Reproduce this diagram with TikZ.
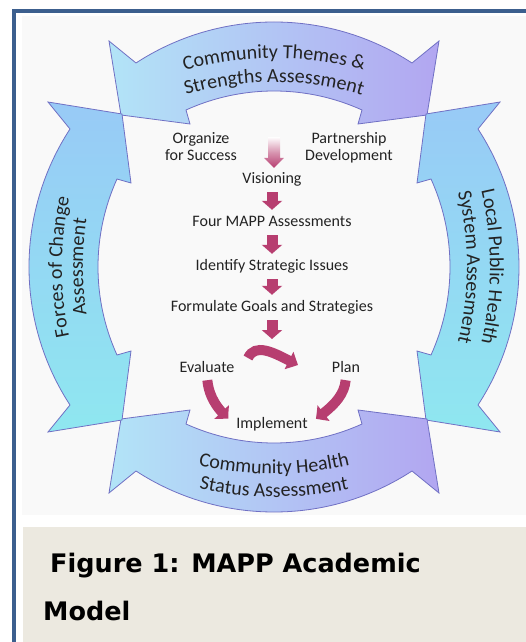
\documentclass[tikz,border=0pt]{standalone}
\usepackage{fontspec}
\setmainfont{Carlito}
\newfontfamily\capfont{DejaVu Sans}
\usetikzlibrary{arrows.meta,bending,decorations.text}

\definecolor{framecol}{RGB}{60,95,142}
\definecolor{panel}{RGB}{249,249,249}
\definecolor{capbg}{RGB}{236,233,224}
\definecolor{ringline}{RGB}{112,112,196}
\definecolor{bandleft}{RGB}{178,228,247}
\definecolor{bandright}{RGB}{178,166,241}
\definecolor{sidetop}{RGB}{152,202,246}
\definecolor{sidebottom}{RGB}{143,231,240}
\definecolor{mapp}{RGB}{183,62,112}
\definecolor{inktext}{RGB}{35,35,35}

\newcommand\ringpath{(-165,226) -- (-138,204) arc[start angle=123.1, end angle=56.9, radius=252.7]
  -- (165,226) -- (153,152) -- (84,143) -- (88,157)
  arc[start angle=65.63, end angle=114.37, radius=213.3]
  -- (-84,143) -- (-153,152) -- cycle}
\newcommand\arcfont{\fontsize{20}{24}\selectfont}
\newcommand\flowfont{\fontsize{16}{17}\selectfont}

\tikzset{
  ring/.style={draw=ringline, line width=0.8pt},
  arclabel/.style={decorate, decoration={text along path, text align=center,
    text color=inktext, text={|\arcfont|#1}}},
  flowtext/.style={font=\flowfont, text=inktext, inner sep=0pt,
    text height=11pt, text depth=4pt, anchor=base},
  twoline/.style={font=\flowfont, text=inktext, inner sep=0pt, align=center, anchor=north},
  flow/.style={draw=mapp, line width=11pt, -{Triangle[width=20pt,length=9pt]},
    shorten <=4pt, shorten >=6pt},
  cyc/.style={draw=mapp, line width=10pt, -{Triangle[width=19pt,length=10pt,bend]}},
  fadearrow/.style={top color=white, bottom color=mapp, middle color=mapp!55},
  caption/.style={font=\capfont\bfseries\fontsize{25.5}{30}\selectfont,
    inner sep=0pt, anchor=base west}
}

\begin{document}
\begin{tikzpicture}[x=1pt, y=1pt]
\useasboundingbox (-274,-375) rectangle (252,267);
\fill[white] (-274,-375) rectangle (252,267);

%frame and panels
\fill[panel] (-252,-248) rectangle (252,251);
\fill[capbg] (-251,-375) rectangle (252,-260);
\draw[framecol, line width=4pt] (-260,-375) -- (-260,256) -- (252,256);

%top
\path[ring, left color=bandleft, right color=bandright] \ringpath;
\path[arclabel={Community Themes {\&}}] ([shift={(115:330)}]0,-121) arc[start angle=115, end angle=65, radius=330];
\path[arclabel={Strengths Assessment}] ([shift={(115:306)}]0,-121) arc[start angle=115, end angle=65, radius=306];

%right
\begin{scope}[rotate=-90]
\path[ring, top color=sidetop, bottom color=sidebottom] \ringpath;
\path[arclabel={Local Public Health}] ([shift={(115:337)}]0,-121) arc[start angle=115, end angle=65, radius=337];
\path[arclabel={System Assesment}] ([shift={(115:314)}]0,-121) arc[start angle=115, end angle=65, radius=314];
\end{scope}

%bottom
\begin{scope}[rotate=180]
\path[ring, left color=bandleft, right color=bandright] \ringpath;
\end{scope}
\path[arclabel={Community Health}] ([shift={(245:328)}]0,121) arc[start angle=245, end angle=295, radius=328];
\path[arclabel={Status Assessment}] ([shift={(245:351)}]0,121) arc[start angle=245, end angle=295, radius=351];

%left
\begin{scope}[rotate=90]
\path[ring, top color=sidetop, bottom color=sidebottom] \ringpath;
\path[arclabel={Forces of Change}] ([shift={(115:333)}]0,-121) arc[start angle=115, end angle=65, radius=333];
\path[arclabel={Assessment}] ([shift={(115:312)}]0,-121) arc[start angle=115, end angle=65, radius=312];
\end{scope}

%steps
\node[twoline] (org) at (-73,135) {Organize\\for Success};
\node[twoline] (part) at (75,135) {Partnership\\Development};
\node[flowtext] (vis) at (-2,83) {Visioning};
\node[flowtext] (four) at (-2,40) {Four MAPP Assessments};
\node[flowtext] (ident) at (-2,-4) {Identify Strategic Issues};
\node[flowtext] (form) at (-2,-45) {Formulate Goals and Strategies};
\node[flowtext] (eval) at (-67,-105) {Evaluate};
\node[flowtext] (plan) at (72,-105) {Plan};
\node[flowtext] (impl) at (-2,-161) {Implement};
\coordinate (looptop) at (-2,-78);
\coordinate (la) at (-26,-91);
\coordinate (lb) at (24,-98);

%arrows
\begin{scope}[shift={(vis.north)}]
\shade[fadearrow] (-4,36) -- (8,36) -- (8,15) -- (12,15) -- (2,5) -- (-8,15) -- (-4,15) -- cycle;
\end{scope}
\draw[flow] (vis) -- (four);
\draw[flow] (four) -- (ident);
\draw[flow] (ident) -- (form);
\draw[flow] (form) -- (looptop);
\draw[cyc] (la) to[out=65, in=155] (lb);
\draw[cyc, shorten <=4pt, shorten >=10pt] (eval.south) to[out=-85, in=145] (impl.west);
\draw[cyc, shorten <=4pt, shorten >=10pt] (plan.south) to[out=-95, in=35] (impl.east);

%caption
\node[caption] (cap1) at (-224,-305) {Figure 1: MAPP Academic};
\node[caption] (cap2) at (-231,-353) {Model};
\end{tikzpicture}
\end{document}
